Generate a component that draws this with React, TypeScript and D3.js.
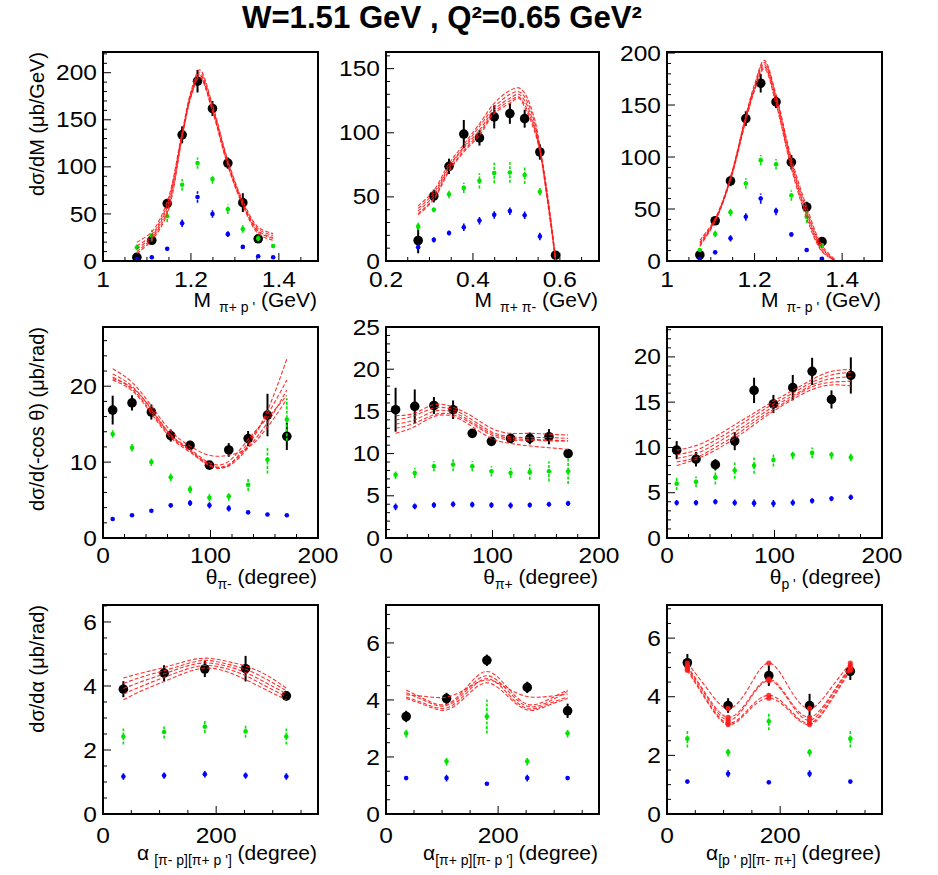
import React from "react";
import * as d3 from "d3";

// ---------- M(π+ p') ----------
const mPipBins = [1.077, 1.111, 1.146, 1.18, 1.215, 1.249, 1.284, 1.318, 1.353, 1.387];
const mPipData = [3.9, 22, 61, 134, 191, 162, 104, 62, 23.6, null];
const mPipDataErr = [2, 3, 5, 9, 12, 8, 6, 10, 3, 0];
const mPipGreen = [14.4, 27, 47.5, 81, 104, 87, 55, 34, 24, 16];
const mPipGreenErr = [3, 6, 6, 6, 6, 5, 5, 4, 3, 2];
const mPipBlue = [2, 4, 13, 40, 68, 50, 28.5, 15, 5, 4];
const mPipBlueErr = [1, 1, 2, 4, 6, 4, 3, 2, 1, 1];
const mPipCurveX = [1.077, 1.111, 1.146, 1.18, 1.2, 1.22, 1.249, 1.284, 1.318, 1.353, 1.387];
const mPipCurves = [
  [20, 31, 63, 137, 180, 203, 166, 107, 64, 36, 29],
  [16, 28, 60, 135, 178, 200, 164, 105, 62, 34, 27],
  [13, 26, 57, 134, 177, 198, 162, 104, 61, 32, 25],
  [10, 24, 53, 132, 175, 197, 160, 102, 60, 31, 24],
  [8, 22, 50, 131, 174, 195, 159, 101, 59, 29, 22],
];

// ---------- M(π+ π-) ----------
const mPiPiBins = [0.274, 0.31, 0.345, 0.379, 0.415, 0.449, 0.485, 0.519, 0.554, 0.59];
const mPiPiData = [16, 50.7, 73.8, 99, 96, 112.4, 115, 111, 85, 4.5];
const mPiPiDataErr = [10, 5, 6, 11, 6, 9, 8, 7, 6, 2];
const mPiPiGreen = [27, 40, 52, 57, 62.5, 68.6, 69, 67, 54, null];
const mPiPiGreenErr = [3, 2, 3, 4, 6, 8, 8, 7, 3, 0];
const mPiPiBlue = [10.8, 16.5, 21.8, 26.3, 31.5, 36, 38.9, 35.7, 19.2, null];
const mPiPiBlueErr = [2, 2, 2, 3, 3, 3, 3, 3, 3, 0];
const mPiPiCurveX = [0.274, 0.31, 0.345, 0.379, 0.415, 0.449, 0.485, 0.505, 0.519, 0.54, 0.554, 0.572, 0.59];
const mPiPiCurves = [
  [43, 55, 76, 91, 107, 123, 133, 135, 131, 113, 90, 51, 3],
  [41, 53, 74, 89, 105, 120, 130, 132, 128, 110, 88, 49, 2],
  [39, 51, 73, 88, 102, 118, 127, 130, 125, 107, 87, 48, 1],
  [37, 49, 71, 86, 100, 116, 125, 128, 122, 105, 86, 47, 1],
  [36, 48, 70, 85, 98, 115, 123, 127, 120, 103, 85, 45, 0],
];

// ---------- M(π- p') ----------
const mPimBins = [1.075, 1.11, 1.145, 1.18, 1.214, 1.249, 1.284, 1.319, 1.354];
const mPimData = [5.8, 38.7, 77, 137, 171, 153, 95, 52, 18.6];
const mPimDataErr = [3, 4, 5, 7, 9, 6, 7, 5, 3];
const mPimGreen = [10.6, 26, 47, 74.6, 97, 93, 63, 42.6, 15];
const mPimGreenErr = [2, 3, 4, 5, 5, 5, 5, 6, 2];
const mPimBlue = [2, 8.3, 21.8, 42.6, 60, 48, 25.6, 10.6, 2];
const mPimBlueErr = [1, 1, 3, 4, 5, 4, 2, 1, 1];
const mPimCurveX = [1.075, 1.11, 1.145, 1.18, 1.2, 1.222, 1.249, 1.284, 1.319, 1.354, 1.385];
const mPimCurves = [
  [20, 41, 81, 140, 170, 193, 160, 99, 52, 15, 1],
  [18, 40, 80, 139, 168, 191, 158, 96, 49, 13, 0],
  [17, 39, 79, 137, 167, 189, 156, 94, 46, 12, 0],
  [15, 39, 78, 136, 165, 187, 153, 91, 44, 10, 0],
  [14, 38, 78, 135, 164, 185, 151, 89, 41, 9, 0],
];

// ---------- polar angles (shared binning) ----------
const thetaBins = [9, 27, 45, 63, 81, 99, 117, 135, 153, 171];

const thPimData = [16.85, 17.8, 16.6, 13.5, 12.2, 9.6, 11.6, 13.1, 16.2, 13.4];
const thPimDataErr = [1.9, 1.0, 1.0, 0.8, 0.6, 0.4, 0.9, 1.0, 2.8, 1.8];
const thPimGreen = [13.7, 11.9, 10.0, 8.0, 6.4, 5.3, 5.5, 7.0, 10.3, 15.6];
const thPimGreenErr = [0.5, 0.5, 0.5, 0.5, 0.5, 0.5, 0.6, 0.8, 1.8, 2.8];
const thPimBlue = [2.5, 3.0, 3.6, 4.3, 4.6, 4.3, 3.9, 3.4, 3.1, 3.0];
const thPimBlueErr = [0.15, 0.15, 0.2, 0.3, 0.4, 0.4, 0.4, 0.3, 0.2, 0.15];
const thPimCurves = [
  [21.0, 19.8, 17.0, 13.6, 11.5, 9.6, 9.7, 12.2, 16.8, 23.6],
  [22.3, 20.5, 17.4, 14.1, 12.1, 10.9, 10.9, 11.9, 14.6, 18.3],
  [20.8, 19.4, 16.4, 13.2, 11.3, 9.5, 9.6, 12.6, 16.3, 20.8],
  [21.6, 20.0, 16.9, 13.6, 11.7, 9.9, 10.1, 13.0, 15.8, 18.8],
  [21.2, 19.6, 16.6, 13.4, 11.5, 9.7, 9.5, 11.9, 15.2, 19.5],
];

const thPipData = [15.2, 15.6, 15.7, 15.2, 12.4, 11.45, 11.8, 11.8, 12.0, 10.0];
const thPipDataErr = [2.6, 2.0, 1.0, 1.1, 0.3, 0.3, 0.5, 0.7, 0.9, 0.3];
const thPipGreen = [7.5, 7.7, 8.5, 8.7, 8.5, 7.9, 7.7, 7.8, 7.9, 7.9];
const thPipGreenErr = [0.5, 0.6, 0.6, 0.8, 0.6, 0.6, 0.6, 0.9, 1.2, 1.5];
const thPipBlue = [3.7, 3.75, 3.9, 4.0, 3.95, 3.9, 3.85, 3.9, 4.0, 4.1];
const thPipBlueErr = [0.4, 0.35, 0.35, 0.35, 0.35, 0.35, 0.35, 0.3, 0.3, 0.3];
const thPipCurves = [
  [14.5, 14.8, 15.8, 15.5, 14.4, 13.0, 12.4, 12.4, 12.3, 12.2],
  [14.0, 14.5, 15.4, 15.2, 14.0, 12.6, 12.0, 11.9, 11.9, 11.8],
  [13.5, 14.0, 15.0, 14.9, 13.7, 12.4, 11.8, 11.7, 11.6, 11.5],
  [13.0, 13.6, 14.6, 14.6, 13.5, 12.2, 11.6, 11.6, 11.5, 11.5],
  [12.4, 13.2, 14.4, 14.4, 13.2, 11.8, 11.2, 10.9, 10.7, 10.5],
];

const thPrData = [9.7, 8.7, 8.1, 10.7, 16.3, 14.8, 16.6, 18.4, 15.3, 17.95];
const thPrDataErr = [1.0, 0.8, 0.6, 1.0, 1.4, 1.0, 1.4, 1.5, 1.0, 2.0];
const thPrGreen = [6.0, 6.2, 6.7, 7.45, 8.0, 8.6, 9.2, 9.4, 9.2, 8.9];
const thPrGreenErr = [0.7, 0.6, 0.8, 0.9, 0.9, 0.7, 0.5, 0.6, 0.5, 0.4];
const thPrBlue = [3.9, 3.9, 4.0, 3.9, 3.85, 3.8, 3.9, 4.1, 4.35, 4.5];
const thPrBlueErr = [0.3, 0.3, 0.3, 0.35, 0.4, 0.4, 0.35, 0.3, 0.3, 0.3];
const thPrCurves = [
  [9.7, 10.2, 11.2, 12.5, 13.8, 15.1, 16.3, 17.5, 18.4, 18.6],
  [9.2, 9.7, 10.8, 12.1, 13.5, 14.8, 16.0, 17.2, 18.0, 18.3],
  [8.8, 9.3, 10.4, 11.7, 13.1, 14.5, 15.7, 16.9, 17.6, 17.8],
  [8.4, 8.9, 10.0, 11.3, 12.8, 14.2, 15.5, 16.7, 17.2, 17.3],
  [8.0, 8.7, 9.7, 11.0, 12.5, 14.0, 15.3, 16.4, 16.9, 16.8],
];

// ---------- angles between planes ----------
const alphaBins = [36, 108, 180, 252, 324];
const alphaCurveX = [36, 72, 108, 144, 180, 216, 252, 288, 324];

const alA_Data = [3.9, 4.4, 4.53, 4.54, 3.69];
const alA_DataErr = [0.25, 0.25, 0.25, 0.4, 0.15];
const alA_Green = [2.42, 2.56, 2.73, 2.58, 2.42];
const alA_GreenErr = [0.25, 0.2, 0.2, 0.2, 0.25];
const alA_Blue = [1.17, 1.2, 1.24, 1.2, 1.17];
const alA_BlueErr = [0.1, 0.1, 0.1, 0.1, 0.1];
const alA_Curves = [
  [4.25, 4.42, 4.58, 4.76, 4.87, 4.78, 4.62, 4.35, 3.93],
  [4.08, 4.3, 4.48, 4.67, 4.8, 4.7, 4.52, 4.22, 3.85],
  [3.92, 4.16, 4.38, 4.6, 4.72, 4.63, 4.42, 4.1, 3.76],
  [3.75, 4.02, 4.27, 4.5, 4.64, 4.55, 4.32, 3.99, 3.67],
  [3.57, 3.88, 4.14, 4.4, 4.56, 4.46, 4.2, 3.88, 3.57],
];

const alB_Data = [3.42, 4.05, 5.39, 4.44, 3.62];
const alB_DataErr = [0.2, 0.2, 0.2, 0.2, 0.25];
const alB_Green = [2.83, 1.85, 3.42, 1.85, 2.83];
const alB_GreenErr = [0.15, 0.15, 0.6, 0.15, 0.15];
const alB_Blue = [1.26, 1.26, 1.06, 1.26, 1.26];
const alB_BlueErr = [0.08, 0.12, 0.05, 0.12, 0.08];
const alB_Curves = [
  [4.35, 4.0, 3.85, 4.45, 5.0, 4.45, 3.85, 4.0, 4.35],
  [4.25, 3.95, 3.8, 4.35, 4.85, 4.35, 3.78, 3.92, 4.3],
  [4.1, 3.85, 3.72, 4.25, 4.75, 4.25, 3.7, 3.85, 4.1],
  [4.05, 3.8, 3.65, 4.15, 4.6, 4.15, 3.65, 3.8, 4.05],
  [4.18, 4.12, 4.1, 4.4, 4.7, 4.42, 4.12, 4.12, 4.2],
];

const alC_Data = [5.16, 3.7, 4.72, 3.7, 4.87];
const alC_DataErr = [0.3, 0.25, 0.35, 0.4, 0.3];
const alC_Green = [2.57, 2.11, 3.16, 2.11, 2.57];
const alC_GreenErr = [0.3, 0.15, 0.3, 0.15, 0.3];
const alC_Blue = [1.11, 1.37, 1.08, 1.37, 1.11];
const alC_BlueErr = [0.08, 0.12, 0.05, 0.12, 0.08];
const alC_Curves = [
  [5.15, 4.25, 3.6, 4.3, 5.15, 4.3, 3.6, 4.25, 5.15],
  [5.05, 4.0, 3.3, 3.9, 4.6, 3.9, 3.3, 4.0, 5.05],
  [5.0, 3.95, 3.2, 3.85, 4.55, 3.85, 3.2, 3.95, 5.0],
  [4.95, 3.85, 3.1, 3.58, 4.05, 3.58, 3.1, 3.85, 4.95],
  [4.9, 3.8, 3.05, 3.52, 3.95, 3.52, 3.05, 3.8, 4.9],
];

// ---------- layout ----------
const W = 938;
const H = 875;
const COLS = [
  { l: 103, r: 318 },
  { l: 386, r: 599 },
  { l: 667, r: 882 },
];
const ROWS = [
  { t: 52, b: 261, tickDy: 26, titleDy: 46 },
  { t: 327, b: 538, tickDy: 25, titleDy: 46 },
  { t: 605, b: 814, tickDy: 29, titleDy: 46 },
];
const FONT = "'Liberation Sans', Arial, Helvetica, sans-serif";
const GREEN = "#00e400";
const BLUE = "#0000ff";
const RED = "#ff1a1a";

const panels = [
  {
    col: 0, row: 0, xDomain: [1, 1.489], yDomain: [0, 222], xMajor: 0.2, xMinor: 0.05, yMajor: 50, yMinor: 10,
    bins: mPipBins, data: mPipData, dataErr: mPipDataErr, green: mPipGreen, greenErr: mPipGreenErr,
    blue: mPipBlue, blueErr: mPipBlueErr, curveX: mPipCurveX, curves: mPipCurves, smooth: "cr",
    xt: { main: "M", sub: "π+ p '", unit: "(GeV)", gap: 8 }, yTitle: "dσ/dM (μb/GeV)",
  },
  {
    col: 1, row: 0, xDomain: [0.2, 0.69], yDomain: [0, 163], xMajor: 0.2, xMinor: 0.05, yMajor: 50, yMinor: 10,
    bins: mPiPiBins, data: mPiPiData, dataErr: mPiPiDataErr, green: mPiPiGreen, greenErr: mPiPiGreenErr,
    blue: mPiPiBlue, blueErr: mPiPiBlueErr, curveX: mPiPiCurveX, curves: mPiPiCurves, smooth: "cr",
    xt: { main: "M", sub: "π+ π-", unit: "(GeV)", gap: 8 },
  },
  {
    col: 2, row: 0, xDomain: [1, 1.491], yDomain: [0, 201], xMajor: 0.2, xMinor: 0.05, yMajor: 50, yMinor: 10,
    bins: mPimBins, data: mPimData, dataErr: mPimDataErr, green: mPimGreen, greenErr: mPimGreenErr,
    blue: mPimBlue, blueErr: mPimBlueErr, curveX: mPimCurveX, curves: mPimCurves, smooth: "cr",
    xt: { main: "M", sub: "π- p '", unit: "(GeV)", gap: 8 },
  },
  {
    col: 0, row: 1, xDomain: [0, 200], yDomain: [0, 27.8], xMajor: 100, xMinor: 20, yMajor: 10, yMinor: 2,
    bins: thetaBins, data: thPimData, dataErr: thPimDataErr, green: thPimGreen, greenErr: thPimGreenErr,
    blue: thPimBlue, blueErr: thPimBlueErr, curveX: thetaBins, curves: thPimCurves, smooth: "natural",
    xt: { main: "θ", sub: "π-", unit: "(degree)", gap: 0 }, yTitle: "dσ/d(-cos θ) (μb/rad)",
  },
  {
    col: 1, row: 1, xDomain: [0, 200], yDomain: [0, 25], xMajor: 100, xMinor: 20, yMajor: 5, yMinor: 1,
    bins: thetaBins, data: thPipData, dataErr: thPipDataErr, green: thPipGreen, greenErr: thPipGreenErr,
    blue: thPipBlue, blueErr: thPipBlueErr, curveX: thetaBins, curves: thPipCurves, smooth: "natural",
    xt: { main: "θ", sub: "π+", unit: "(degree)", gap: 0 },
  },
  {
    col: 2, row: 1, xDomain: [0, 200], yDomain: [0, 23.3], xMajor: 100, xMinor: 20, yMajor: 5, yMinor: 1,
    bins: thetaBins, data: thPrData, dataErr: thPrDataErr, green: thPrGreen, greenErr: thPrGreenErr,
    blue: thPrBlue, blueErr: thPrBlueErr, curveX: thetaBins, curves: thPrCurves, smooth: "natural",
    xt: { main: "θ", sub: "p '", unit: "(degree)", gap: 0 },
  },
  {
    col: 0, row: 2, xDomain: [0, 380], yDomain: [0, 6.53], xMajor: 200, xMinor: 50, yMajor: 2, yMinor: 0.5,
    bins: alphaBins, data: alA_Data, dataErr: alA_DataErr, green: alA_Green, greenErr: alA_GreenErr,
    blue: alA_Blue, blueErr: alA_BlueErr, curveX: alphaCurveX, curves: alA_Curves, smooth: "natural",
    xt: { main: "α", sub: "[π- p][π+ p ']", unit: "(degree)", gap: 5 }, yTitle: "dσ/dα (μb/rad)",
  },
  {
    col: 1, row: 2, xDomain: [0, 380], yDomain: [0, 7.33], xMajor: 200, xMinor: 50, yMajor: 2, yMinor: 0.5,
    bins: alphaBins, data: alB_Data, dataErr: alB_DataErr, green: alB_Green, greenErr: alB_GreenErr,
    blue: alB_Blue, blueErr: alB_BlueErr, curveX: alphaCurveX, curves: alB_Curves, smooth: "natural",
    xt: { main: "α", sub: "[π+ p][π- p ']", unit: "(degree)", gap: 0 },
  },
  {
    col: 2, row: 2, xDomain: [0, 380], yDomain: [0, 7.13], xMajor: 200, xMinor: 50, yMajor: 2, yMinor: 0.5,
    bins: alphaBins, data: alC_Data, dataErr: alC_DataErr, green: alC_Green, greenErr: alC_GreenErr,
    blue: alC_Blue, blueErr: alC_BlueErr, curveX: alphaCurveX, curves: alC_Curves, smooth: "natural",
    xt: { main: "α", sub: "[p ' p][π- π+]", unit: "(degree)", gap: 0 }, curveMarkers: true,
  },
];

function tickValues(d0: number, d1: number, step: number) {
  const n0 = Math.ceil(d0 / step - 1e-9);
  const n1 = Math.floor(d1 / step + 1e-9);
  return d3.range(n0, n1 + 1).map((i) => +(i * step).toFixed(6));
}
const isMajor = (v: number, major: number) => Math.abs(v / major - Math.round(v / major)) < 1e-6;
const fmt = d3.format("~g");

function Num({ x, y, anchor, children }: any) {
  return (
    <text
      transform={`translate(${x},${y}) scale(1.14,1)`}
      textAnchor={anchor}
      fontFamily={FONT}
      fontSize={21.5}
      fill="#000"
    >
      {children}
    </text>
  );
}

function Points({ bins, vals, errs, x, y, kind }: any) {
  return (
    <g>
      {bins.map((bx: number, i: number) => {
        const v = vals[i];
        if (v === null || v === undefined) return null;
        const cx = x(bx);
        const cy = y(v);
        const e = errs[i] || 0;
        if (kind === "data") {
          return (
            <g key={i}>
              <line x1={cx} x2={cx} y1={y(v - e)} y2={y(v + e)} stroke="#000" strokeWidth={2} />
              <circle cx={cx} cy={cy} r={4.8} fill="#000" />
            </g>
          );
        }
        const col = kind === "green" ? GREEN : BLUE;
        return (
          <g key={i}>
            <line x1={cx} x2={cx} y1={y(v - e)} y2={y(v + e)} stroke={col} strokeWidth={1.6} strokeDasharray="3 1.5" />
            <circle cx={cx} cy={cy} r={2.3} fill={col} />
          </g>
        );
      })}
    </g>
  );
}

function Panel({ p, idx }: any) {
  const { l, r } = COLS[p.col];
  const { t, b, tickDy, titleDy } = ROWS[p.row];
  const x = d3.scaleLinear().domain(p.xDomain).range([l, r]);
  const y = d3.scaleLinear().domain(p.yDomain).range([b, t]);
  const line = d3
    .line<[number, number]>()
    .x((d) => x(d[0]))
    .y((d) => y(d[1]))
    .curve(p.smooth === "natural" ? d3.curveNatural : d3.curveCatmullRom.alpha(0.5));

  const xTicks = tickValues(p.xDomain[0], p.xDomain[1], p.xMinor);
  const yTicks = tickValues(p.yDomain[0], p.yDomain[1], p.yMinor);
  const clipId = `clip${idx}`;

  return (
    <g>
      <clipPath id={clipId}>
        <rect x={l} y={t} width={r - l} height={b - t} />
      </clipPath>

      {/* ticks inside the frame */}
      {xTicks.map((v) => {
        const len = isMajor(v, p.xMajor) ? 8 : 4;
        return <line key={`xt${v}`} x1={x(v)} x2={x(v)} y1={b} y2={b - len} stroke="#000" strokeWidth={1} />;
      })}
      {yTicks.map((v) => {
        const len = isMajor(v, p.yMajor) ? 8 : 4;
        return <line key={`yt${v}`} x1={l} x2={l + len} y1={y(v)} y2={y(v)} stroke="#000" strokeWidth={1} />;
      })}

      {/* tick labels */}
      {xTicks
        .filter((v) => isMajor(v, p.xMajor))
        .map((v) => (
          <Num key={`xl${v}`} x={x(v)} y={b + tickDy} anchor="middle">
            {fmt(v)}
          </Num>
        ))}
      {yTicks
        .filter((v) => isMajor(v, p.yMajor))
        .map((v) => (
          <Num key={`yl${v}`} x={l - 6} y={y(v) + 7.6} anchor="end">
            {fmt(v)}
          </Num>
        ))}

      {/* measured cross sections and contributions */}
      <Points bins={p.bins} vals={p.data} errs={p.dataErr} x={x} y={y} kind="data" />
      <Points bins={p.bins} vals={p.green} errs={p.greenErr} x={x} y={y} kind="green" />
      <Points bins={p.bins} vals={p.blue} errs={p.blueErr} x={x} y={y} kind="blue" />

      {/* model curves */}
      <g clipPath={`url(#${clipId})`}>
        {p.curves.map((c: number[], k: number) => (
          <path
            key={k}
            d={line(p.curveX.map((cx: number, i: number) => [cx, c[i]] as [number, number])) || ""}
            fill="none"
            stroke={RED}
            strokeWidth={1.1}
            strokeDasharray="4 2"
            opacity={0.9}
          />
        ))}
        {p.curveMarkers &&
          p.curves.map((c: number[], k: number) =>
            p.curveX.map((cx: number, i: number) =>
              p.bins.includes(cx) ? (
                <circle key={`m${k}-${i}`} cx={x(cx)} cy={y(c[i])} r={2.6} fill={RED} opacity={0.85} />
              ) : null
            )
          )}
      </g>

      {/* frame */}
      <rect x={l} y={t} width={r - l} height={b - t} fill="none" stroke="#000" strokeWidth={2} />

      {/* x axis title */}
      <text x={r - 1} y={b + titleDy} textAnchor="end" fontFamily={FONT} fontSize={21} fill="#000">
        {p.xt.main}
        <tspan dx={p.xt.gap} dy={5} fontSize={14}>
          {p.xt.sub}
        </tspan>
        <tspan dy={-5} fontSize={21}>
          {" " + p.xt.unit}
        </tspan>
      </text>

      {/* y axis title */}
      {p.yTitle && (
        <text
          transform={`translate(44,${t}) rotate(-90)`}
          textAnchor="end"
          fontFamily={FONT}
          fontSize={20}
          fill="#000"
        >
          {p.yTitle}
        </text>
      )}
    </g>
  );
}

export default function App() {
  return (
    <svg
      width={W}
      height={H}
      viewBox={`0 0 ${W} ${H}`}
      style={{ position: "absolute", left: 0, top: 0, background: "#fff" }}
    >
      <rect x={0} y={0} width={W} height={H} fill="#fff" />
      <text
        x={242}
        y={27.5}
        fontFamily={FONT}
        fontWeight="bold"
        fontSize={31}
        textLength={400}
        lengthAdjust="spacingAndGlyphs"
        fill="#000"
      >
        W=1.51 GeV , Q²=0.65 GeV²
      </text>
      {panels.map((p, i) => (
        <Panel key={i} p={p} idx={i} />
      ))}
    </svg>
  );
}
